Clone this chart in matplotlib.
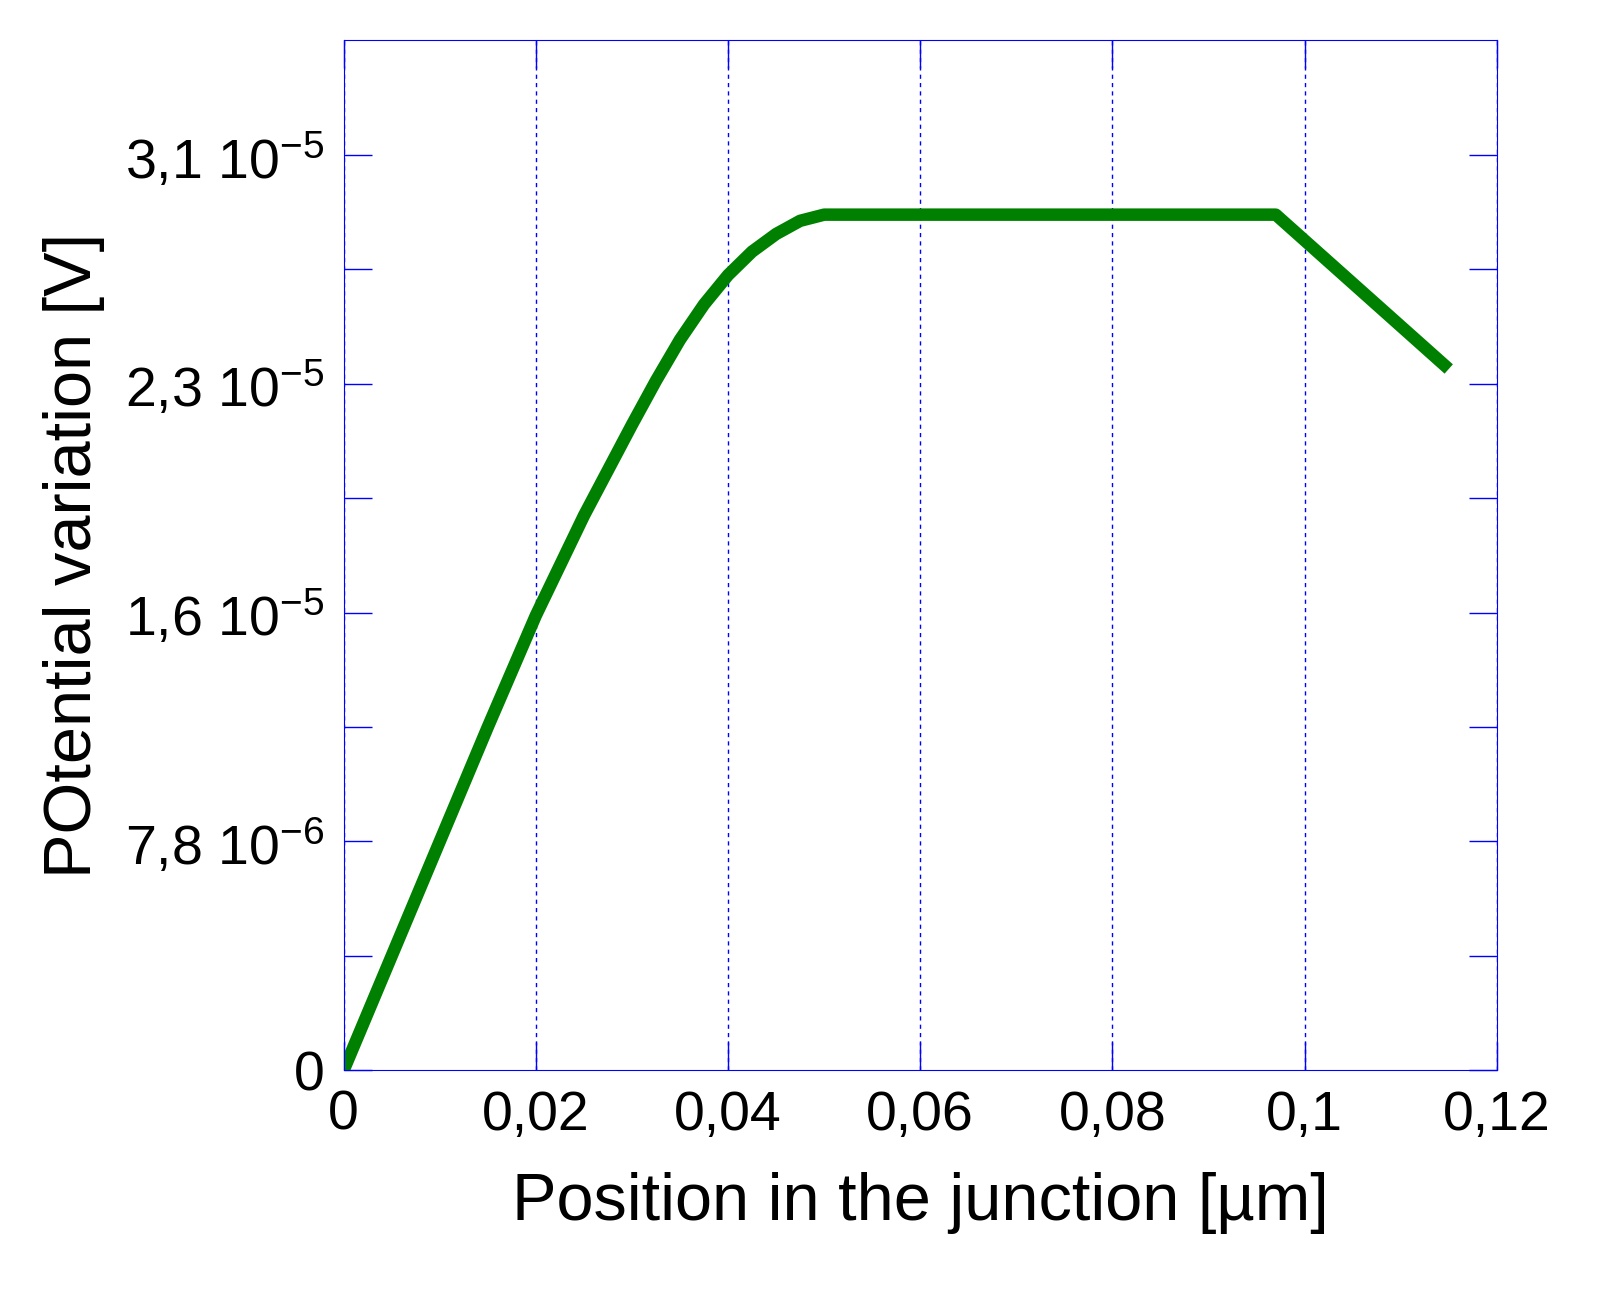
import matplotlib
matplotlib.use("Agg")
import matplotlib.pyplot as plt

plt.rcParams['font.family'] = ['Liberation Sans', 'DejaVu Sans']
plt.rcParams['mathtext.fontset'] = 'custom'
plt.rcParams['mathtext.rm'] = 'Liberation Sans'
plt.rcParams['mathtext.default'] = 'regular'

# data
pos_um = [0.0, 0.005, 0.01, 0.015, 0.02, 0.025, 0.03, 0.0325, 0.035, 0.0375, 0.04,
          0.0425, 0.045, 0.0475, 0.05, 0.06, 0.07, 0.08, 0.09, 0.097, 0.115]
potential_v = [0.0, 3.9e-6, 7.8e-6, 1.17e-5, 1.55e-5, 1.89e-5, 2.20e-5, 2.35e-5,
               2.49e-5, 2.61e-5, 2.71e-5, 2.79e-5, 2.85e-5, 2.895e-5, 2.916e-5,
               2.916e-5, 2.916e-5, 2.916e-5, 2.916e-5, 2.916e-5, 2.39e-5]

y_ticks = [0, 7.8e-6, 1.56e-5, 2.34e-5, 3.12e-5]
y_labels = ["0", r"7,8 10$^{-6}$", r"1,6 10$^{-5}$", r"2,3 10$^{-5}$", r"3,1 10$^{-5}$"]
x_ticks = [0, 0.02, 0.04, 0.06, 0.08, 0.1, 0.12]
x_labels = ["0", "0,02", "0,04", "0,06", "0,08", "0,1", "0,12"]

fig = plt.figure(figsize=(16.06, 13.02), dpi=100)
ax = fig.add_axes([0.214, 0.178, 0.718, 0.791])
ax.plot(pos_um, potential_v, color='green', lw=9, solid_capstyle='butt',
        solid_joinstyle='round')

ax.set_xlim(0, 0.12)
ax.set_ylim(0, 3.51e-5)
ax.set_xticks(x_ticks)
ax.set_xticklabels(x_labels)
ax.set_yticks(y_ticks)
ax.set_yticklabels(y_labels)
ax.set_yticks([3.9e-6, 1.17e-5, 1.95e-5, 2.73e-5], minor=True)
ax.tick_params(which='both', direction='in', color='blue', right=True, top=True,
               labelsize=40, length=20, width=1, pad=14)
for s in ax.spines.values():
    s.set_color('blue')
ax.grid(axis='x', color='blue', linestyle=(0, (3, 3)), lw=1)

ax.set_xlabel("Position in the junction [µm]", fontsize=48, labelpad=22)
ax.set_ylabel("POtential variation [V]", fontsize=48, labelpad=14)

fig.savefig("out.png", dpi=100)
